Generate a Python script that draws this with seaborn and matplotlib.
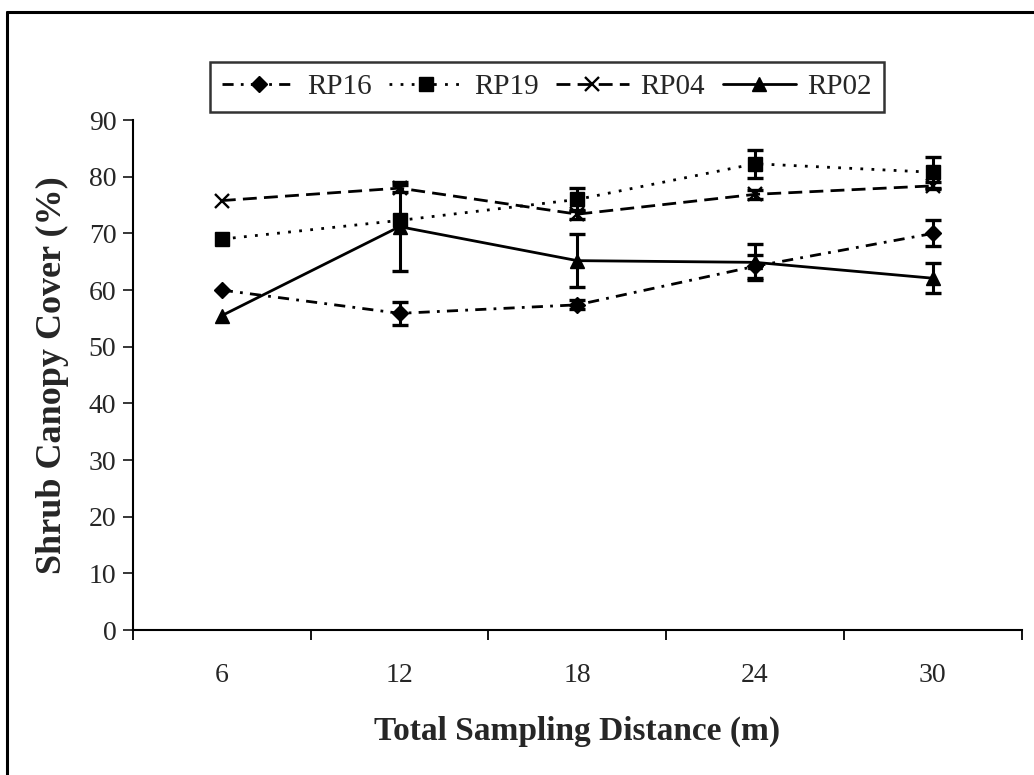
import matplotlib
matplotlib.use("Agg")
import matplotlib.pyplot as plt
from matplotlib.lines import Line2D
import numpy as np
import pandas as pd
import seaborn as sns

# Sampling distances (m) and mean shrub canopy cover (%) with error bars
distances = ["6", "12", "18", "24", "30"]
sites = ["RP16", "RP19", "RP04", "RP02"]
rp16 = [60.0, 55.9, 57.4, 64.2, 70.0]
rp16_err = [0.0, 2.0, 0.8, 2.0, 2.3]
rp19 = [69.0, 72.3, 76.0, 82.3, 80.8]
rp19_err = [0.0, 0.0, 2.0, 2.5, 2.7]
rp04 = [75.8, 78.0, 73.4, 76.9, 78.4]
rp04_err = [0.0, 0.6, 0.8, 0.8, 0.6]
rp02 = [55.5, 71.2, 65.2, 64.9, 62.1]
rp02_err = [0.0, 7.8, 4.7, 3.2, 2.6]

means = {"RP16": rp16, "RP19": rp19, "RP04": rp04, "RP02": rp02}
errs = {"RP16": rp16_err, "RP19": rp19_err, "RP04": rp04_err, "RP02": rp02_err}

rows = []
for s in sites:
    for i, d in enumerate(distances):
        rows.append({"pos": i, "distance": d, "site": s, "cover": means[s][i]})
df = pd.DataFrame(rows)

sns.set_style("ticks")
plt.rcParams["font.family"] = ["Liberation Serif", "DejaVu Serif"]

fig = plt.figure(figsize=(10.34, 7.75), dpi=100)
ax = fig.add_axes([0.1286, 0.187, 0.8594, 0.658])

lw = 2.0
markers = {"RP16": "D", "RP19": "s", "RP04": "x", "RP02": "^"}
dashes = {"RP16": (4.0, 2.6, 1.0, 2.6), "RP19": (1.0, 3.0), "RP04": (5.0, 2.6), "RP02": None}
sizes = {"RP16": 8, "RP19": 9.5, "RP04": 10, "RP02": 9.5}

handles = []
for s in sites:
    sub = df[df["site"] == s]
    kw = dict(color="black", linewidth=lw, marker=markers[s], markersize=sizes[s],
              markeredgecolor="black", markeredgewidth=1.7 if s == "RP04" else 1.0)
    if dashes[s] is not None:
        kw["dashes"] = dashes[s]
    sns.lineplot(data=sub, x="pos", y="cover", ax=ax, legend=False, **kw)
    handles.append(ax.lines[-1])

for s in sites:
    pos = np.arange(len(distances))
    e = np.array(errs[s])
    m = e > 0
    ax.errorbar(pos[m], np.array(means[s])[m], yerr=e[m], fmt="none",
                ecolor="black", elinewidth=2.2, capsize=5.5, capthick=2.4)

# Category axis with ticks between categories
ax.set_xlim(-0.5, len(distances) - 0.5)
ax.set_xticks(np.arange(-0.5, len(distances)), labels=[])
ax.set_xticks(np.arange(len(distances)), labels=distances, minor=True)
ax.tick_params(axis="x", which="major", direction="out", length=7, width=1.3, color="black")
ax.tick_params(axis="x", which="minor", length=0, pad=24, labelsize=20)
ax.set_ylim(0, 90)
ax.set_yticks(np.arange(0, 91, 10))
ax.tick_params(axis="y", direction="out", length=7, width=1.3, labelsize=20, pad=5)

for side in ["top", "right"]:
    ax.spines[side].set_visible(False)
for side in ["left", "bottom"]:
    ax.spines[side].set_linewidth(1.5)
    ax.spines[side].set_color("black")

ax.set_xlabel("Total Sampling Distance (m)", fontsize=24, fontweight="bold", labelpad=20)
ax.set_ylabel("Shrub Canopy Cover (%)", fontsize=26, fontweight="bold", labelpad=14)

leg = ax.legend(handles, sites, ncol=4, loc="center", bbox_to_anchor=(0.466, 1.065),
                frameon=True, fancybox=False, edgecolor="black", fontsize=21,
                handlelength=2.5, handletextpad=0.4, columnspacing=0.6,
                borderpad=0.42)
leg.get_frame().set_linewidth(1.8)

# Outer frame of the figure
fig.add_artist(Line2D([0.0068, 0.0068], [0.0, 0.9845], color="black", linewidth=2.2,
                      transform=fig.transFigure))
fig.add_artist(Line2D([0.0068, 1.0], [0.9845, 0.9845], color="black", linewidth=2.2,
                      transform=fig.transFigure))

fig.savefig("out.png", dpi=100)
